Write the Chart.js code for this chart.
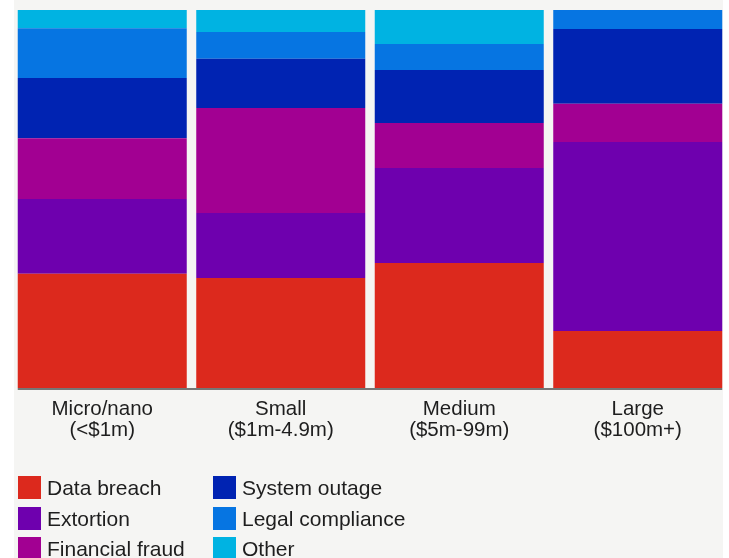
<!DOCTYPE html>
<html>
<head>
<meta charset="utf-8">
<script src="https://cdn.jsdelivr.net/npm/chart.js@4/dist/chart.umd.min.js"></script>
<style>
  html, body { margin: 0; padding: 0; background: #ffffff; }
  #wrap { position: relative; width: 729px; height: 558px; overflow: hidden; font-family: "Liberation Sans", Arial, sans-serif; }
  #panel { position: absolute; left: 14px; top: 0; width: 709px; height: 558px; background: #f5f5f3; }
  #cv { position: absolute; left: 0; top: 0; }
  #legend { position: absolute; left: 0; top: 0; width: 729px; height: 558px; pointer-events: none; }
  .li { position: absolute; height: 23px; display: flex; align-items: center; }
  .sw { width: 23px; height: 23px; flex: none; }
  .lt { margin-left: 6px; font-size: 21px; color: #1e1e1e; white-space: nowrap; line-height: 23px; }
</style>
</head>
<body>
<div id="wrap">
  <div id="panel"></div>
  <canvas id="cv" width="729" height="458" style="width:729px;height:458px"></canvas>
  <div id="legend"></div>
</div>
<script>
// ---- data ----
const categories = [["Micro/nano", "(<$1m)"], ["Small", "($1m-4.9m)"], ["Medium", "($5m-99m)"], ["Large", "($100m+)"]];
const seriesNames = ["Data breach", "Extortion", "Financial fraud", "System outage", "Legal compliance", "Other"];
const dataBreach      = [30.2, 29.1, 33.1, 15.1];
const extortion       = [19.8, 17.2, 25.1, 50.0];
const financialFraud  = [16.1, 27.8, 11.9, 10.1];
const systemOutage    = [15.9, 13.0, 14.0, 19.8];
const legalCompliance = [13.2, 7.1, 6.9, 5.0];
const other           = [4.8, 5.8, 9.0, 0.0];
const seriesColors = ["#dc291d", "#6e00ae", "#a20092", "#0023b2", "#0675e2", "#00b3e2"];

const seriesValues = [dataBreach, extortion, financialFraud, systemOutage, legalCompliance, other];

const axisLine = {
  id: 'axisLine',
  afterDatasetsDraw(chart) {
    const metaFirst = chart.getDatasetMeta(0);
    const bars = metaFirst.data;
    if (!bars.length) return;
    const b0 = bars[0].getProps(['x', 'width'], true);
    const bN = bars[bars.length - 1].getProps(['x', 'width'], true);
    const ctx = chart.ctx;
    ctx.save();
    ctx.strokeStyle = '#767676';
    ctx.lineWidth = 2;
    ctx.beginPath();
    const y = chart.chartArea.bottom + 1;
    ctx.moveTo(b0.x - b0.width / 2, y);
    ctx.lineTo(bN.x + bN.width / 2, y);
    ctx.stroke();
    ctx.restore();
  }
};

const chart = new Chart(document.getElementById('cv'), {
  type: 'bar',
  data: {
    labels: categories,
    datasets: seriesNames.map((n, i) => ({
      label: n,
      data: seriesValues[i],
      backgroundColor: seriesColors[i],
      borderWidth: 0,
      barPercentage: 1.0,
      categoryPercentage: 0.9468
    }))
  },
  options: {
    responsive: false,
    animation: false,
    devicePixelRatio: 1,
    layout: { padding: { left: 13, right: 2, top: 10, bottom: 0 } },
    plugins: { legend: { display: false }, tooltip: { enabled: false } },
    scales: {
      x: {
        stacked: true,
        grid: { display: false, drawTicks: false },
        border: { display: false },
        ticks: {
          color: '#1e1e1e',
          font: { family: '"Liberation Sans", Arial, sans-serif', size: 20.5, lineHeight: 1.02 },
          padding: 11,
          maxRotation: 0,
          autoSkip: false
        },
        afterFit(scale) { scale.height = 70; }
      },
      y: {
        stacked: true,
        display: false,
        min: 0,
        max: 100
      }
    }
  },
  plugins: [axisLine]
});

// HTML legend built from the chart's datasets (two columns, three rows, column-major)
const legendEl = document.getElementById('legend');
const colX = [18, 213];
const rowY = [476, 507, 537];
chart.data.datasets.forEach((ds, i) => {
  const col = Math.floor(i / 3), row = i % 3;
  const item = document.createElement('div');
  item.className = 'li';
  item.style.left = colX[col] + 'px';
  item.style.top = rowY[row] + 'px';
  const sw = document.createElement('div');
  sw.className = 'sw';
  sw.style.background = ds.backgroundColor;
  const t = document.createElement('span');
  t.className = 'lt';
  t.textContent = ds.label;
  item.appendChild(sw);
  item.appendChild(t);
  legendEl.appendChild(item);
});
</script>
</body>
</html>
